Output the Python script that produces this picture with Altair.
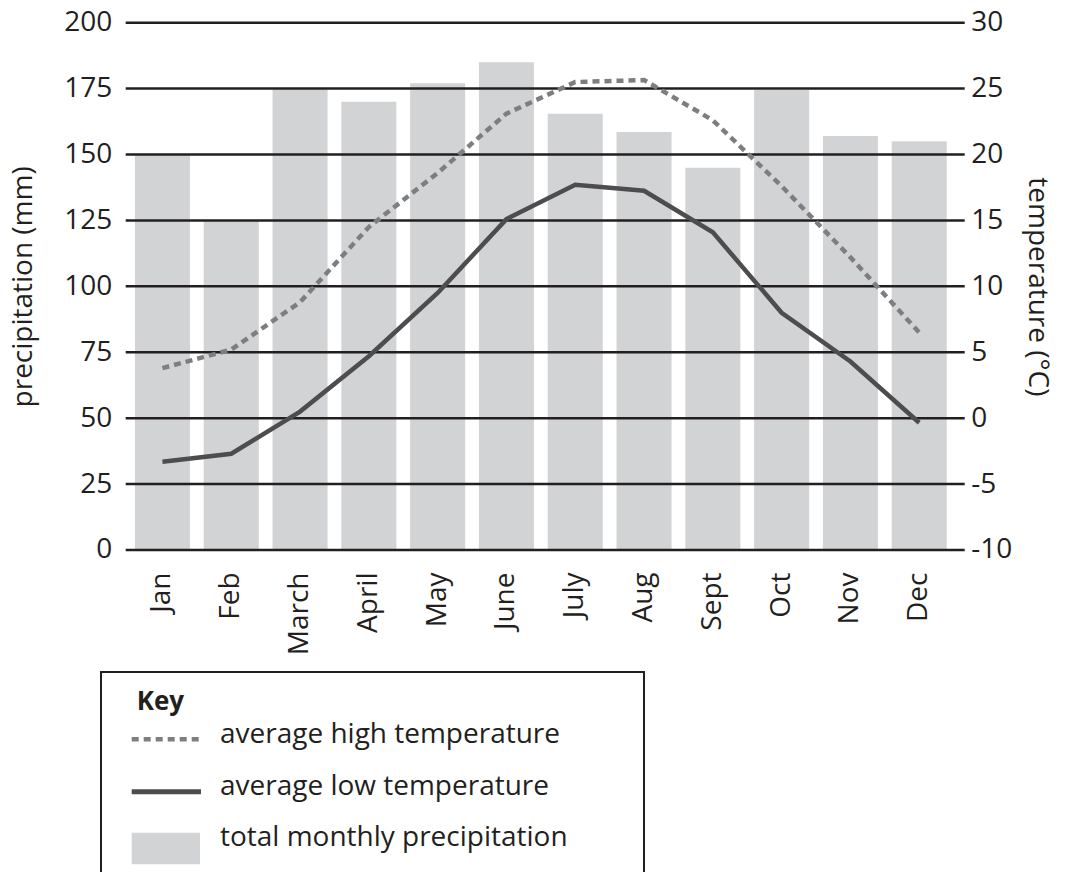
import altair as alt
import pandas as pd

months = ["Jan", "Feb", "March", "April", "May", "June", "July", "Aug", "Sept", "Oct", "Nov", "Dec"]
precip_mm = [150, 125, 175, 170, 177, 185, 165.5, 158.5, 145, 174.5, 157, 155]
high_c = [3.8, 5.2, 8.8, 14.5, 18.6, 23.1, 25.5, 25.65, 22.6, 17.6, 12.2, 6.5]
low_c = [-3.3, -2.7, 0.5, 4.7, 9.5, 15.1, 17.7, 17.25, 14.1, 8.0, 4.3, -0.35]
precip_ticks = [0, 25, 50, 75, 100, 125, 150, 175, 200]
temp_ticks = [-10, -5, 0, 5, 10, 15, 20, 25, 30]

legend_labels = ["average high temperature", "average low temperature", "total monthly precipitation"]

df = pd.DataFrame({"month": months, "precip": precip_mm, "high": high_c, "low": low_c})
grid_df = pd.DataFrame({"g": precip_ticks})
one = pd.DataFrame({"k": [0]})

W, H = 839, 527.3
FONT = "Open Sans"
INK = "#231f20"
BAR = "#d1d3d4"
HIGH = "#7d7e81"
LOW = "#4d4d4f"

xscale = alt.Scale(paddingInner=0.2, paddingOuter=0.1975, align=0.34)
xaxis = alt.Axis(title=None, labelAngle=270, labelAlign="right", labelBaseline="middle",
                 labelPadding=22, ticks=False, tickSize=0, domain=False, grid=False,
                 labelFontSize=28)
xenc = alt.X("month:N", sort=months, scale=xscale, axis=xaxis)

pscale = alt.Scale(domain=[0, 200], nice=False, zero=True)
tscale = alt.Scale(domain=[-10, 30], nice=False, zero=False)

bars = alt.Chart(df).mark_bar(color=BAR).encode(
    x=xenc,
    y=alt.Y("precip:Q", scale=pscale, axis=alt.Axis(
        values=precip_ticks, title="precipitation (mm)", titleFontSize=28,
        labelFontSize=28, labelPadding=14, ticks=False, domain=False, grid=False,
        titlePadding=26)),
)

grid = alt.Chart(grid_df).mark_rule(color=INK, strokeWidth=2.5).encode(
    y=alt.Y("g:Q", scale=pscale, axis=None)
)

high = alt.Chart(df).mark_line(color=HIGH, strokeWidth=4.5, strokeDash=[7, 5]).encode(
    x=xenc,
    y=alt.Y("high:Q", scale=tscale, axis=alt.Axis(
        orient="right", values=temp_ticks, labelExpr="'' + datum.value",
        title="temperature (\u00b0C)", titleFontSize=28, labelFontSize=28,
        labelPadding=6, ticks=False, domain=False, grid=False, titlePadding=11)),
)

low = alt.Chart(df).mark_line(color=LOW, strokeWidth=4.5).encode(
    x=xenc,
    y=alt.Y("low:Q", scale=tscale, axis=None),
)

# key (drawn below the plot)
key_box = alt.Chart(one).mark_rect(fill="white", fillOpacity=0, stroke=INK, strokeWidth=2).encode(
    x=alt.value(-24.7), x2=alt.value(518.3), y=alt.value(649.3), y2=alt.value(880)
)
key_title = alt.Chart(one).mark_text(font=FONT, fontSize=26, fontWeight="bold", color=INK,
                                     align="left", baseline="alphabetic").encode(
    x=alt.value(11), y=alt.value(687.3), text=alt.value("Key")
)
key_high = alt.Chart(one).mark_rule(color=HIGH, strokeWidth=4.5, strokeDash=[7, 5]).encode(
    x=alt.value(6), x2=alt.value(75.3), y=alt.value(716.6)
)
key_low = alt.Chart(one).mark_rule(color=LOW, strokeWidth=5).encode(
    x=alt.value(6), x2=alt.value(75.3), y=alt.value(769)
)
key_bar = alt.Chart(one).mark_rect(color=BAR).encode(
    x=alt.value(6), x2=alt.value(74.3), y=alt.value(810), y2=alt.value(841.6)
)
key_texts = [
    alt.Chart(one).mark_text(font=FONT, fontSize=28, color=INK, align="left",
                             baseline="alphabetic").encode(
        x=alt.value(94.3), y=alt.value(yy), text=alt.value(t))
    for t, yy in zip(legend_labels, [720.6, 772.3, 823])
]

chart = alt.layer(
    bars, grid, high, low, key_box, key_title, key_high, key_low, key_bar, *key_texts
).resolve_scale(y="independent").properties(
    width=W, height=H,
    autosize=alt.AutoSizeParams(type="none"),
    padding={"left": 117.7, "top": 14.7, "right": 90, "bottom": 322},
).configure_view(stroke=None).configure_axis(
    labelFont=FONT, titleFont=FONT, labelColor=INK, titleColor=INK, titleFontWeight="normal"
)

chart.save("out.html", embed_options={"renderer": "svg", "actions": False})
